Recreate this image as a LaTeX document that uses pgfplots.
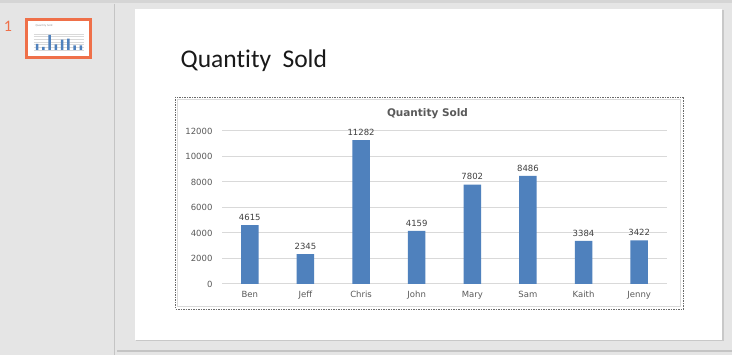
\documentclass[border=0pt]{standalone}
\usepackage{fontspec}
\usepackage{pgfplots}
\pgfplotsset{compat=1.18}
\newfontfamily\chartfont{DejaVu Sans}
\newfontfamily\slidefont[Ligatures=NoCommon]{Carlito}
\definecolor{bgc}{HTML}{E5E5E5}
\definecolor{topc}{HTML}{D5D5D5}
\definecolor{divc}{HTML}{C4C4C4}
\definecolor{slideb}{HTML}{C8C8C8}
\definecolor{selc}{HTML}{EF7049}
\definecolor{barc}{HTML}{4F81BD}
\definecolor{gridc}{HTML}{D9D9D9}
\definecolor{tickc}{HTML}{595959}
\definecolor{labc}{HTML}{404040}
\definecolor{framec}{HTML}{6A6A6A}
\begin{document}
\begin{tikzpicture}[x=1pt,y=1pt]
\useasboundingbox (0,0) rectangle (732,355);
\fill[bgc] (0,0) rectangle (732,355);
\fill[topc] (0,352) rectangle (732,355);
\draw[divc, line width=1.2pt] (114.5,351) -- (114.5,0);
\draw[divc, line width=1.2pt] (117,4) -- (732,4);
% slide
\fill[slideb] (135.5,344.5) rectangle (723.5,13.5);
\fill[white] (134.5,345.5) rectangle (722,15);
% thumbnail
\draw[selc, line width=3pt, fill=white] (26.5,335.5) rectangle (90.5,297.5);
\node[text=selc, font=\slidefont\fontsize{16}{18}\selectfont] at (8,329) {1};
\node[anchor=west, text=tickc!70, font=\chartfont\fontsize{2.5}{3}\selectfont] at (32,329) {Quantity Sold};
\begin{axis}[
  at={(34pt,305pt)}, anchor=south west,
  scale only axis, width=50pt, height=16pt,
  xmin=-0.5, xmax=7.5, ymin=0, ymax=12000,
  axis line style={draw=none},
  ytick={0,2000,...,12000}, xtick=data,
  xticklabels={}, yticklabels={},
  scaled ticks=false,
  major tick length=0pt,
  ymajorgrids, grid style={color=gridc, line width=0.4pt},
  clip=false,
]
\addplot[ybar, bar width=2.4pt, fill=barc, draw=none] coordinates {
(0,4615) (1,2345) (2,11282) (3,4159) (4,7802) (5,8486) (6,3384) (7,3422)};
\end{axis}
% slide title
\node[anchor=base west, inner sep=0pt, text=black!90, font=\slidefont\fontsize{25.5}{29}\selectfont] at (180.5,287) {Quantity~~Sold};
% chart frame
\fill[white] (175,258) rectangle (683.5,46);
\draw[gridc, line width=0.8pt] (177.5,255.5) rectangle (680.5,49);
\draw[framec, line width=0.8pt, dash pattern=on 1.5pt off 1pt] (175,258) rectangle (683.5,46);
\node[text=tickc, font=\chartfont\bfseries\fontsize{10.5}{12}\selectfont] at (427.5,241) {Quantity Sold};
\begin{axis}[
  at={(222pt,71pt)}, anchor=south west,
  scale only axis, width=445pt, height=153pt,
  xmin=-0.5, xmax=7.5, ymin=0, ymax=12000,
  axis line style={draw=none},
  ytick={0,2000,...,12000},
  xtick=data, xticklabels={Ben,Jeff,Chris,John,Mary,Sam,Kaith,Jenny},
  major tick length=0pt,
  ymajorgrids, grid style={color=gridc, line width=1pt},
  tick label style={font=\chartfont\fontsize{8.5}{10}\selectfont, text=tickc},
  /pgf/number format/assume math mode=true,
  /pgf/number format/1000 sep={},
  scaled y ticks=false,
  yticklabel style={xshift=-6pt},
  xticklabel style={yshift=-4pt},
  clip=false,
]
\addplot[ybar, bar width=17.6pt, fill=barc, draw=none,
  point meta=explicit symbolic,
  nodes near coords,
  every node near coord/.append style={font=\chartfont\fontsize{8.5}{10}\selectfont, text=labc, yshift=1pt}]
coordinates {
(0,4615) [4615]
(1,2345) [2345]
(2,11282) [11282]
(3,4159) [4159]
(4,7802) [7802]
(5,8486) [8486]
(6,3384) [3384]
(7,3422) [3422]};
\end{axis}
\end{tikzpicture}
\end{document}
